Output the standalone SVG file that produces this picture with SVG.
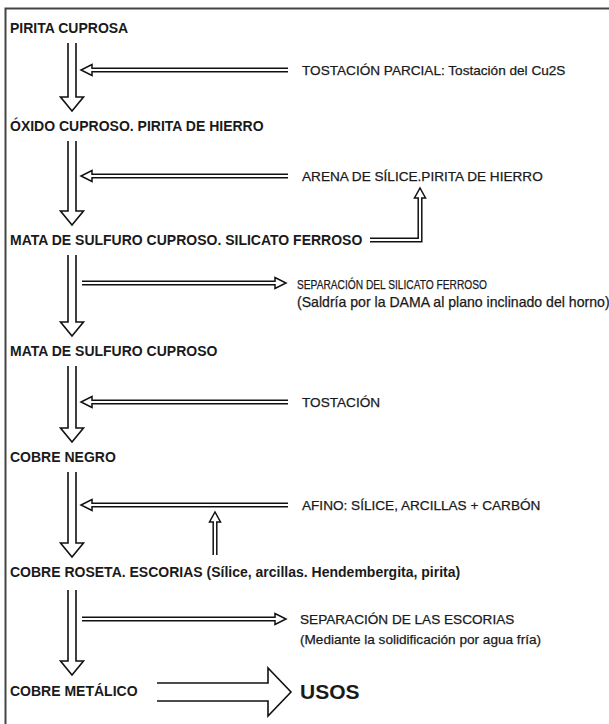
<svg xmlns="http://www.w3.org/2000/svg" width="609" height="724" viewBox="0 0 609 724">
<style>
.b{font-family:"Liberation Sans",Arial,sans-serif;font-weight:bold;font-size:14px;fill:#1a1a1a}
.r{font-family:"Liberation Sans",Arial,sans-serif;font-size:13.6px;fill:#1a1a1a;stroke:#1a1a1a;stroke-width:0.25}
.u{font-family:"Liberation Sans",Arial,sans-serif;font-weight:bold;font-size:21px;fill:#1a1a1a}
.ln{fill:none;stroke:#111;stroke-width:1.6;stroke-linejoin:miter}
.hl{fill:none;stroke:#111;stroke-width:1.5}
</style>
<rect x="0" y="0" width="609" height="724" fill="#fff"/>
<path d="M5.5,724 V8.5 H609" fill="none" stroke="#444" stroke-width="2"/>
<g id="n1"><text class="b" x="10" y="33">PIRITA CUPROSA</text></g>
<g id="n2"><text class="b" x="10" y="131">ÓXIDO CUPROSO. PIRITA DE HIERRO</text></g>
<g id="n3"><text class="b" x="10" y="245">MATA DE SULFURO CUPROSO. SILICATO FERROSO</text></g>
<g id="n4"><text class="b" x="10" y="356">MATA DE SULFURO CUPROSO</text></g>
<g id="n5"><text class="b" x="10" y="462">COBRE NEGRO</text></g>
<g id="n6"><text class="b" x="10" y="577">COBRE ROSETA. ESCORIAS (Sílice, arcillas. Hendembergita, pirita)</text></g>
<g id="n7"><text class="b" x="10" y="696">COBRE METÁLICO</text></g>
<g id="n8"><text class="u" x="300" y="699">USOS</text></g>
<g id="l1"><text class="r" x="302" y="75">TOSTACIÓN PARCIAL: Tostación del Cu2S</text></g>
<g id="l2"><text class="r" x="302" y="181">ARENA DE SÍLICE.PIRITA DE HIERRO</text></g>
<g id="l3"><text class="r" x="297" y="289" textLength="190" lengthAdjust="spacingAndGlyphs">SEPARACIÓN DEL SILICATO FERROSO</text><text class="r" x="297" y="307" style="font-size:14.1px">(Saldría por la DAMA al plano inclinado del horno)</text></g>
<g id="l4"><text class="r" x="302" y="407">TOSTACIÓN</text></g>
<g id="l5"><text class="r" x="302" y="510">AFINO: SÍLICE, ARCILLAS + CARBÓN</text></g>
<g id="l6"><text class="r" x="300" y="624">SEPARACIÓN DE LAS ESCORIAS</text><text class="r" x="300" y="644">(Mediante la solidificación por agua fría)</text></g>
<g id="connectors">
<path class="ln" d="M68,43 V97 H60.5 L72,111 L83.5,97 H76 V43"/>
<path class="ln" d="M68,141 V211 H60.5 L72,225 L83.5,211 H76 V141"/>
<path class="ln" d="M68,255 V322 H60.5 L72,336 L83.5,322 H76 V255"/>
<path class="ln" d="M68,366 V428 H60.5 L72,442 L83.5,428 H76 V366"/>
<path class="ln" d="M68,472 V543 H60.5 L72,557 L83.5,543 H76 V472"/>
<path class="ln" d="M68,590 V661 H60.5 L72,675 L83.5,661 H76 V590"/>
<path class="hl" d="M288,68.2 H92 V64.5 L81,70 L92,75.5 V71.8 H288"/>
<path class="hl" d="M288,174.2 H92 V170.5 L81,176 L92,181.5 V177.8 H288"/>
<path class="hl" d="M82,281.2 H275 V277.5 L286,283 L275,288.5 V284.8 H82"/>
<path class="hl" d="M288,400.2 H92 V396.5 L81,402 L92,407.5 V403.8 H288"/>
<path class="hl" d="M288,503.2 H92 V499.5 L81,505 L92,510.5 V506.8 H288"/>
<path class="hl" d="M82,617.2 H275 V613.5 L286,619 L275,624.5 V620.8 H82"/>
<path class="hl" d="M370,238.2 H418.2 V198 H414.5 L420,188 L425.5,198 H421.8 V241.8 H370"/>
<path class="hl" d="M213.2,555 V522 H209.5 L215,512 L220.5,522 H216.8 V555"/>
<path class="ln" d="M157,683 H268 V668 L291,692 L268,716 V701 H157"/>
</g>
</svg>
